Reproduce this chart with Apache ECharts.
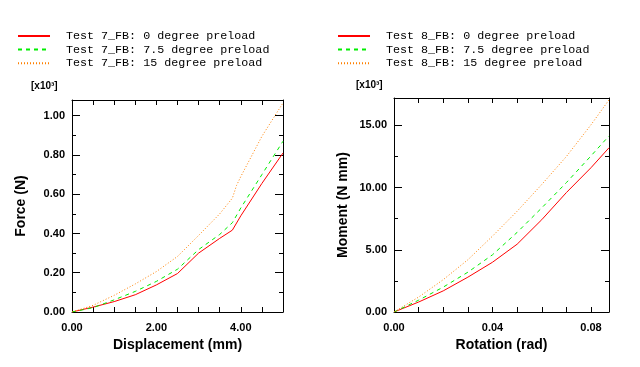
<!DOCTYPE html>
<html><head><meta charset="utf-8">
<script src="https://cdn.jsdelivr.net/npm/echarts@6/dist/echarts.min.js"></script>
<style>html,body{margin:0;padding:0;background:#fff}#c{width:640px;height:367px}</style>
</head><body><div id="c"></div>
<script>
// Left panel: Force vs Displacement (force in x10^3 N)
const dispX = [0, 0.5, 1.0, 1.5, 2.0, 2.5, 3.0, 3.5, 3.8, 4.0, 4.5, 5.0];
const force0 = [0, 0.025, 0.053, 0.088, 0.138, 0.196, 0.300, 0.375, 0.417, 0.49, 0.655, 0.81];
const force75 = [0, 0.022, 0.062, 0.105, 0.156, 0.218, 0.318, 0.395, 0.455, 0.53, 0.70, 0.87];
const dispX15 = [0, 0.5, 1.0, 1.5, 2.0, 2.5, 3.0, 3.5, 3.8, 3.9, 4.0, 4.5, 5.0];
const force15 = [0, 0.034, 0.085, 0.143, 0.206, 0.283, 0.39, 0.50, 0.58, 0.645, 0.69, 0.895, 1.065];
// Right panel: Moment vs Rotation (moment in x10^3 N mm)
const rotX = [0, 0.01, 0.02, 0.03, 0.04, 0.05, 0.06, 0.07, 0.08, 0.0873];
const moment0 = [0, 0.8, 1.7, 2.8, 4.0, 5.45, 7.42, 9.6, 11.6, 13.2];
const moment75 = [0, 0.95, 2.0, 3.2, 4.6, 6.4, 8.37, 10.4, 12.55, 14.15];
const moment15 = [0, 1.2, 2.6, 4.2, 6.1, 8.1, 10.25, 12.5, 15.05, 17.05];

const namesL = ['Test 7_FB: 0 degree preload', 'Test 7_FB: 7.5 degree preload', 'Test 7_FB: 15 degree preload'];
const namesR = ['Test 8_FB: 0 degree preload', 'Test 8_FB: 7.5 degree preload', 'Test 8_FB: 15 degree preload'];
const xTicksL = [0, 2, 4];
const yTicksL = [0, 0.2, 0.4, 0.6, 0.8, 1.0];
const xTicksR = [0, 0.04, 0.08];
const yTicksR = [0, 5, 10, 15];

const pairs = (xs, ys) => xs.map((x, i) => [x, ys[i]]);
const isIn = (v, arr) => arr.some(t => Math.abs(t - v) < 1e-9);
const fmt = (arr) => (v) => isIn(v, arr) ? v.toFixed(2) : '';

const lblFont = {fontFamily: 'Liberation Sans, Arial, sans-serif', fontWeight: 'bold', fontSize: 11, color: '#000'};
const nameFont = {fontFamily: 'Liberation Sans, Arial, sans-serif', fontWeight: 'bold', fontSize: 14, color: '#000'};
const axLine = {show: true, onZero: false, lineStyle: {color: '#000', width: 1}};

function xAx(grid, min, max, interval, ticks, name, pos) {
  const main = pos === 'bottom';
  return {
    type: 'value', gridIndex: grid, position: pos, min: min, max: max, interval: interval,
    name: main ? name : '', nameLocation: 'middle', nameGap: 20, nameTextStyle: nameFont,
    axisLine: axLine, splitLine: {show: false},
    axisTick: {show: true, inside: true, length: 5, lineStyle: {color: '#000'}},
    axisLabel: {show: main, margin: 10, formatter: fmt(ticks), ...lblFont, showMaxLabel: true, showMinLabel: true}
  };
}
function yAx(grid, min, max, interval, ticks, name, pos) {
  const main = pos === 'left';
  return {
    type: 'value', gridIndex: grid, position: pos, min: min, max: max, interval: interval,
    name: main ? name : '', nameLocation: 'middle', nameGap: 44, nameTextStyle: nameFont,
    axisLine: axLine, splitLine: {show: false},
    axisTick: {show: true, inside: true, length: 8, lineStyle: {color: '#000'}},
    minorTick: {show: true, splitNumber: 2, length: 4, lineStyle: {color: '#000'}},
    axisLabel: {show: main, margin: 7, formatter: fmt(ticks), ...lblFont}
  };
}

const styles = [
  {color: '#ff0000', width: 1, type: 'solid'},
  {color: '#00ee00', width: 1, type: [4, 4]},
  {color: '#ff8000', width: 1, type: [1, 2]}
];
function ser(name, data, xi, yi, k) {
  return {name: name, type: 'line', xAxisIndex: xi, yAxisIndex: yi, data: data,
    showSymbol: false, symbol: 'none', lineStyle: styles[k], itemStyle: {color: styles[k].color, opacity: 0}};
}
const legendCommon = {
  orient: 'vertical', padding: 0, itemWidth: 32, itemHeight: 12, itemGap: 1.6,
  itemStyle: {opacity: 0},
  textStyle: {fontFamily: 'Liberation Mono, monospace', fontSize: 11.7, color: '#000', padding: [0, 0, 0, 11]}
};

const chart = echarts.init(document.getElementById('c'), null, {renderer: 'canvas'});
chart.setOption({
  animation: false,
  backgroundColor: '#fff',
  grid: [
    {left: 72, right: 357, top: 100, bottom: 55},
    {left: 394, right: 31, top: 98, bottom: 55}
  ],
  legend: [
    {...legendCommon, left: 17, top: 30, data: namesL},
    {...legendCommon, left: 337, top: 30, data: namesR}
  ],
  xAxis: [
    xAx(0, 0, 5, 0.5, xTicksL, 'Displacement (mm)', 'bottom'),
    xAx(1, 0, 0.0873, 0.01, xTicksR, 'Rotation (rad)', 'bottom'),
    xAx(0, 0, 5, 0.5, xTicksL, '', 'top'),
    xAx(1, 0, 0.0873, 0.01, xTicksR, '', 'top')
  ],
  yAxis: [
    yAx(0, 0, 1.08, 0.2, yTicksL, 'Force (N)', 'left'),
    yAx(1, 0, 17.2, 5, yTicksR, 'Moment (N mm)', 'left'),
    yAx(0, 0, 1.08, 0.2, yTicksL, '', 'right'),
    yAx(1, 0, 17.2, 5, yTicksR, '', 'right')
  ],
  graphic: [
    {type: 'text', left: 31, top: 81, style: {text: '[x10³]', font: 'bold 10px Liberation Sans, Arial, sans-serif', fill: '#000'}},
    {type: 'text', left: 356, top: 80, style: {text: '[x10³]', font: 'bold 10px Liberation Sans, Arial, sans-serif', fill: '#000'}}
  ],
  series: [
    ser(namesL[0], pairs(dispX, force0), 0, 0, 0),
    ser(namesL[1], pairs(dispX, force75), 0, 0, 1),
    ser(namesL[2], pairs(dispX15, force15), 0, 0, 2),
    ser(namesR[0], pairs(rotX, moment0), 1, 1, 0),
    ser(namesR[1], pairs(rotX, moment75), 1, 1, 1),
    ser(namesR[2], pairs(rotX, moment15), 1, 1, 2)
  ]
});
</script></body></html>
